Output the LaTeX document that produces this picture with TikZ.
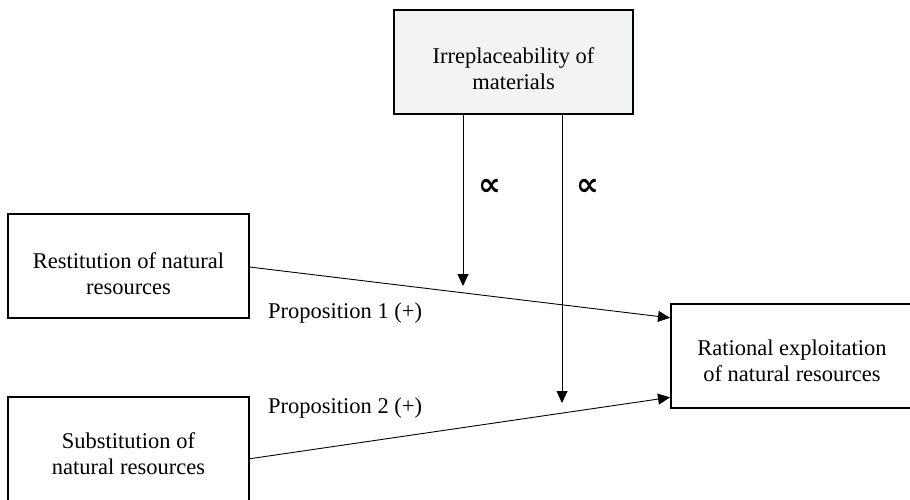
\documentclass[tikz,border=0pt]{standalone}
\usepackage{fontspec}
\setmainfont{Liberation Serif}
\newfontfamily\symfont{DejaVu Sans}
\usetikzlibrary{arrows.meta,calc}
\definecolor{topgray}{RGB}{242,244,243}
\begin{document}
\begin{tikzpicture}[x=1pt,y=-1pt,
  box/.style={draw,line width=2pt,inner sep=0pt},
  txt/.style={inner sep=0pt,anchor=base,font=\fontsize{22.5}{26.5}\selectfont},
  conn/.style={line width=0.9pt,-{Triangle[length=12pt,width=11pt]}},
  propsym/.style={font=\symfont\bfseries\fontsize{32}{34}\selectfont,inner sep=0pt}]
\clip (0,0) rectangle (910,499);
% boxes
\node[box,fill=topgray,minimum width=239pt,minimum height=104pt] (top) at (513.5,62) {};
\node[box,minimum width=241pt,minimum height=104pt] (rest) at (128.5,266) {};
\node[box,minimum width=241pt,minimum height=112pt] (subs) at (128.5,453) {};
\node[box,minimum width=242pt,minimum height=104pt] (rat) at (792,356) {};
% texts
\node[txt] (topT) at (513.5,63) {\begin{tabular}[t]{@{}c@{}}Irreplaceability of\\materials\end{tabular}};
\node[txt] (restT) at (128.5,268) {\begin{tabular}[t]{@{}c@{}}Restitution of natural\\resources\end{tabular}};
\node[txt] (subsT) at (128.5,448) {\begin{tabular}[t]{@{}c@{}}Substitution of\\natural resources\end{tabular}};
\node[txt] (ratT) at (792,355) {\begin{tabular}[t]{@{}c@{}}Rational exploitation\\of natural resources\end{tabular}};
\node[txt,anchor=base west] (p1) at (268,318) {Proposition 1 (+)};
\node[txt,anchor=base west] (p2) at (268,413) {Proposition 2 (+)};
\node[propsym] (a1) at (490,187) {∝};
\node[propsym] (a2) at (588,187) {∝};
% connector points
\coordinate (r1) at ($(rat.north west)!0.14!(rat.south west)$);
\coordinate (r2) at ($(rat.north west)!0.89!(rat.south west)$);
\coordinate (s1) at ($(rest.north east)!0.51!(rest.south east)$);
\coordinate (s2) at ($(subs.north east)!0.55!(subs.south east)$);
\coordinate (m1) at (463,286);
\coordinate (m2) at (562,403);
% connectors
\draw[conn] (s1) -- (r1);
\draw[conn] (s2) -- (r2);
\draw[conn] (top.south -| m1) -- (m1);
\draw[conn] (top.south -| m2) -- (m2);
\end{tikzpicture}
\end{document}
